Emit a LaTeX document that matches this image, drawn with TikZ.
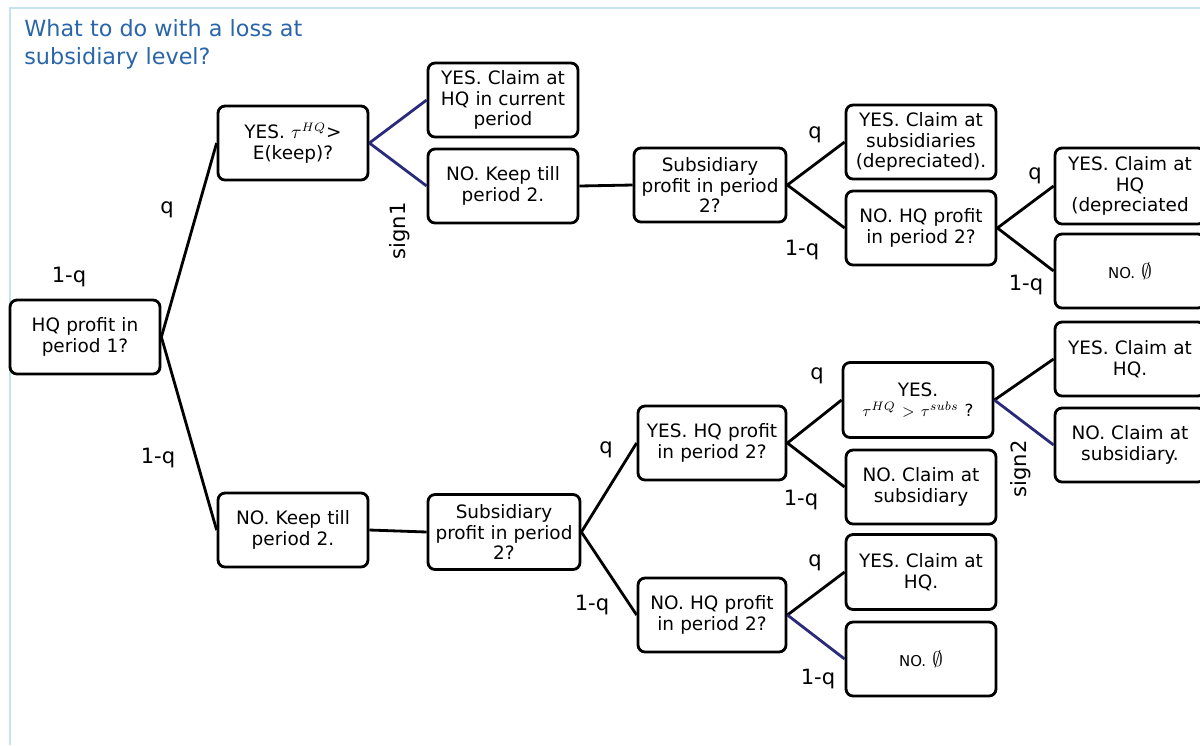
\documentclass[tikz,border=0pt]{standalone}
\usepackage{fontspec}
\setmainfont{DejaVu Sans}
\definecolor{navyline}{RGB}{42,42,122}
\definecolor{titleblue}{RGB}{41,101,168}
\definecolor{framecyan}{RGB}{196,230,235}
\begin{document}
\begin{tikzpicture}[x=0.02cm,y=-0.02cm,
  box/.style={draw=black, line width=1.6pt, rounded corners=4pt, minimum width=3cm,
    minimum height=1.48cm, align=center, inner sep=0pt, text width=2.8cm,
    font=\fontsize{10.5}{11.8}\selectfont},
  conn/.style={line width=1.6pt, draw=black},
  bconn/.style={line width=1.6pt, draw=navyline},
  lab/.style={font=\fontsize{12}{14}\selectfont, inner sep=0pt}]
\useasboundingbox (0,0) rectangle (1200,745);
% frame
\draw[framecyan, line width=0.6pt] (10,745) -- (10,8) -- (1200,8);
% title
\node[anchor=north west, inner sep=0pt, align=left, text=titleblue,
  font=\fontsize{12.7}{16}\selectfont] (title) at (24,19)
  {What to do with a loss at\\subsidiary level?};
% boxes
\node[box] (hq) at (85,337) {HQ profit in\\period 1?};
\node[box] (yes1) at (293,143) {YES. $\tau^{HQ}$>\\E(keep)?};
\node[box] (claimHQ) at (503,100) {YES. Claim at\\HQ in current\\period};
\node[box] (keep1) at (503,186) {NO. Keep till\\period 2.};
\node[box, minimum width=3.04cm] (subs1) at (710,185) {Subsidiary\\profit in period\\2?};
\node[box] (claimSubsDep) at (921,142) {YES. Claim at\\subsidiaries\\(depreciated).};
\node[box] (noHQ1) at (921,228) {NO. HQ profit\\in period 2?};
\node[box, minimum height=1.52cm] (claimHQDep) at (1130,186) {YES. Claim at\\HQ\\(depreciated};
\node[box] (none1) at (1130,271) {\fontsize{8.5}{10}\selectfont NO. {\fontsize{12}{12}\selectfont$\emptyset$}};
\node[box] (claimHQ2) at (1130,359) {YES. Claim at\\HQ.};
\node[box] (claimSub2) at (1130,445) {NO. Claim at\\subsidiary.};
\node[box, minimum height=1.5cm] (tau2) at (918,400) {YES.\\{\fontsize{9.5}{11}\selectfont$\tau^{HQ} > \tau^{subs}$ ?}};
\node[box] (claimSub1) at (921,487) {NO. Claim at\\subsidiary};
\node[box, minimum width=2.96cm] (yesHQ2) at (712,443) {YES. HQ profit\\in period 2?};
\node[box] (keep2) at (293,530) {NO. Keep till\\period 2.};
\node[box, minimum width=3.04cm, minimum height=1.5cm] (subs2) at (504,532) {Subsidiary\\profit in period\\2?};
\node[box, minimum width=2.96cm] (noHQ2) at (712,615) {NO. HQ profit\\in period 2?};
\node[box, minimum height=1.5cm] (claimHQ3) at (921,572) {YES. Claim at\\HQ.};
\node[box] (none2) at (921,659) {\fontsize{8.5}{10}\selectfont NO. {\fontsize{12}{12}\selectfont$\emptyset$}};
% connectors
\draw[conn] (hq.east) -- (yes1.west);
\draw[conn] (hq.east) -- (keep2.west);
\draw[bconn] (yes1.east) -- (claimHQ.west);
\draw[bconn] (yes1.east) -- (keep1.west);
\draw[conn] (keep1.east) -- (subs1.west);
\draw[conn] (subs1.east) -- (claimSubsDep.west);
\draw[conn] (subs1.east) -- (noHQ1.west);
\draw[conn] (noHQ1.east) -- (claimHQDep.west);
\draw[conn] (noHQ1.east) -- (none1.west);
\draw[conn] (keep2.east) -- (subs2.west);
\draw[conn] (subs2.east) -- (yesHQ2.west);
\draw[conn] (subs2.east) -- (noHQ2.west);
\draw[conn] (yesHQ2.east) -- (tau2.west);
\draw[conn] (yesHQ2.east) -- (claimSub1.west);
\draw[conn] (tau2.east) -- (claimHQ2.west);
\draw[bconn] (tau2.east) -- (claimSub2.west);
\draw[conn] (noHQ2.east) -- (claimHQ3.west);
\draw[bconn] (noHQ2.east) -- (none2.west);
% labels
\node[lab] (l1) at (167,210) {q};
\node[lab] (l2) at (69,277) {1-q};
\node[lab] (l3) at (158,458) {1-q};
\node[lab, rotate=90] (s1) at (400,231) {sign1};
\node[lab] (l4) at (815,135) {q};
\node[lab] (l5) at (802,250) {1-q};
\node[lab] (l6) at (1035,176) {q};
\node[lab] (l7) at (1026,285) {1-q};
\node[lab] (l8) at (817,376) {q};
\node[lab] (l9) at (801,500) {1-q};
\node[lab, rotate=90] (s2) at (1021,469) {sign2};
\node[lab] (l10) at (606,450) {q};
\node[lab] (l11) at (592,605) {1-q};
\node[lab] (l12) at (815,563) {q};
\node[lab] (l13) at (818,679) {1-q};
\end{tikzpicture}
\end{document}
